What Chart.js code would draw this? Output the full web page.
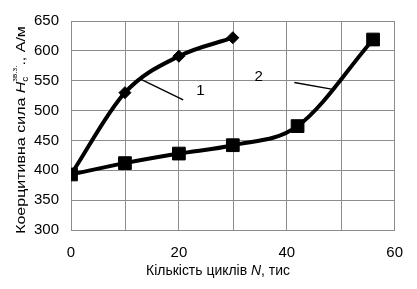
<!DOCTYPE html>
<html>
<head>
<meta charset="utf-8">
<script src="https://cdn.jsdelivr.net/npm/chart.js@4/dist/chart.umd.min.js"></script>
<style>
  html, body { margin: 0; padding: 0; background: #fff; }
  #wrap { width: 417px; height: 289px; }
</style>
</head>
<body>
<div id="wrap"><canvas id="c" width="417" height="289"></canvas></div>
<script>
// ---- data ----
const cycles1 = [0, 10, 20, 30];
const hc1     = [393, 530, 591, 622];
const cycles2 = [0, 10, 20, 30, 42, 56];
const hc2     = [393, 412, 428, 442, 474, 619];
const xTicks  = [0, 20, 40, 60];
const yMin = 300, yMax = 650, yStep = 50;

// curve labels with their leader lines, in data units
const curveLabels = [
  { text: '1', at: [24, 533], from: [12.6, 554], to: [20.8, 518] },
  { text: '2', at: [34.8, 557], from: [41.4, 547], to: [48.3, 536] }
];

const FONT = '"Liberation Sans", Arial, sans-serif';

const pts = (xs, ys) => xs.map((x, i) => ({ x, y: ys[i] }));

// titles + curve labels
const drawExtras = {
  id: 'drawExtras',
  afterDraw(chart) {
    const { ctx, chartArea: a, scales: { x, y } } = chart;
    ctx.save();
    ctx.fillStyle = '#000';
    ctx.strokeStyle = '#000';

    // leader lines + numbers
    ctx.lineWidth = 1.3;
    ctx.font = '15px ' + FONT;
    ctx.textAlign = 'center';
    ctx.textBaseline = 'middle';
    curveLabels.forEach(l => {
      ctx.beginPath();
      ctx.moveTo(x.getPixelForValue(l.from[0]), y.getPixelForValue(l.from[1]));
      ctx.lineTo(x.getPixelForValue(l.to[0]), y.getPixelForValue(l.to[1]));
      ctx.stroke();
      ctx.fillText(l.text, x.getPixelForValue(l.at[0]), y.getPixelForValue(l.at[1]));
    });

    // x title: "Кількість циклів N, тис" (a little condensed, like the scan)
    const xParts = [
      ['Кількість циклів ', '15px ' + FONT],
      ['N', 'italic 15px ' + FONT],
      [', тис', '15px ' + FONT]
    ];
    const sq = 0.93;
    let w = 0;
    xParts.forEach(p => { ctx.font = p[1]; w += ctx.measureText(p[0]).width; });
    ctx.textAlign = 'left';
    ctx.textBaseline = 'alphabetic';
    ctx.save();
    ctx.translate(218, 275);
    ctx.scale(sq, 1);
    let cx = -w / 2;
    xParts.forEach(p => { ctx.font = p[1]; ctx.fillText(p[0], cx, 0); cx += ctx.measureText(p[0]).width; });
    ctx.restore();

    // y title, rotated, with H_c^{зв.з.}
    const yParts = [
      ['Коерцитивна сила ', '16px ' + FONT, 0],
      ['H', 'italic 16px ' + FONT, 0],
      ['c', '10px ' + FONT, 3, true],
      ['зв.з.', '8px ' + FONT, -9],
      ['., А/м', '16px ' + FONT, 0]
    ];
    let total = 0;
    yParts.forEach(p => {
      ctx.font = p[1];
      if (!p[3]) total += ctx.measureText(p[0]).width;
    });
    ctx.translate(25, 130);
    ctx.rotate(-Math.PI / 2);
    ctx.scale(1, 0.85);
    let px = -total / 2;
    yParts.forEach(p => {
      ctx.font = p[1];
      ctx.fillText(p[0], px, p[2]);
      if (!p[3]) px += ctx.measureText(p[0]).width; // subscript shares room with superscript
    });
    ctx.restore();
  }
};

new Chart(document.getElementById('c'), {
  type: 'line',
  data: {
    datasets: [
      {
        data: pts(cycles1, hc1),
        borderColor: '#000', backgroundColor: '#000',
        borderWidth: 4, cubicInterpolationMode: 'monotone',
        pointStyle: 'rectRot', pointRadius: 6, pointBorderWidth: 1
      },
      {
        data: pts(cycles2, hc2),
        borderColor: '#000', backgroundColor: '#000',
        borderWidth: 4, cubicInterpolationMode: 'monotone',
        pointStyle: 'rect', pointRadius: 9, pointBorderWidth: 1
      }
    ]
  },
  options: {
    responsive: false,
    animation: false,
    layout: { padding: { top: 12, right: 8, left: 0, bottom: 0 } },
    plugins: { legend: { display: false }, tooltip: { enabled: false } },
    scales: {
      x: {
        type: 'linear', min: 0, max: 60,
        afterFit: s => { s.height = 59; },
        afterBuildTicks: s => { s.ticks = xTicks.map(v => ({ value: v })); },
        ticks: { color: '#000', font: { family: FONT, size: 15 }, padding: 14, maxRotation: 0 },
        grid: { color: '#8c8c8c', lineWidth: 1, drawTicks: false },
        border: { color: '#8c8c8c', width: 1 }
      },
      y: {
        min: yMin, max: yMax,
        afterFit: s => { s.width = 71; },
        ticks: { stepSize: yStep, color: '#000', font: { family: FONT, size: 15 }, padding: 12 },
        grid: { color: '#8c8c8c', lineWidth: 1, drawTicks: false },
        border: { color: '#8c8c8c', width: 1 }
      }
    }
  },
  plugins: [drawExtras, {
    // vertical grid lines at every 10 (labels only every 20)
    id: 'xGrid10',
    beforeDatasetsDraw(chart) {
      const { ctx, chartArea: a, scales: { x } } = chart;
      ctx.save();
      ctx.strokeStyle = '#8c8c8c';
      ctx.lineWidth = 1;
      for (let v = 10; v < 60; v += 20) {
        const p = Math.round(x.getPixelForValue(v)) + 0.5;
        ctx.beginPath(); ctx.moveTo(p, a.top); ctx.lineTo(p, a.bottom); ctx.stroke();
      }
      ctx.restore();
    }
  }]
});
</script>
</body>
</html>
